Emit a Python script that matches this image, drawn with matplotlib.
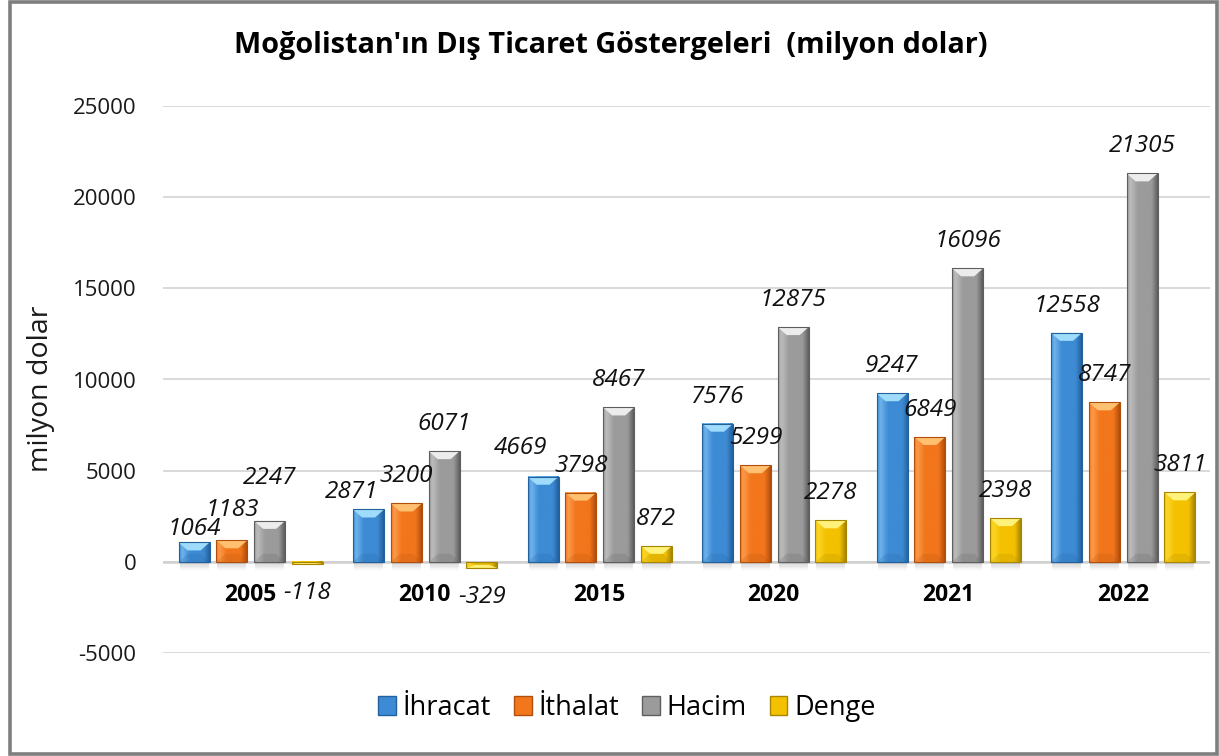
import numpy as np
import matplotlib
matplotlib.use("Agg")
import matplotlib.pyplot as plt
from matplotlib.patches import Rectangle, Polygon, Patch
from matplotlib.colors import LinearSegmentedColormap
from matplotlib import font_manager

# data
years = ["2005", "2010", "2015", "2020", "2021", "2022"]
ihracat = [1064, 2871, 4669, 7576, 9247, 12558]
ithalat = [1183, 3200, 3798, 5299, 6849, 8747]
hacim = [2247, 6071, 8467, 12875, 16096, 21305]
denge = [-118, -329, 872, 2278, 2398, 3811]
series_names = ["İhracat", "İthalat", "Hacim", "Denge"]
title = "Moğolistan'ın Dış Ticaret Göstergeleri  (milyon dolar)"
y_label = "milyon dolar"


def pick_family(families, style):
    for fam in families:
        for f in font_manager.fontManager.ttflist:
            if f.name == fam and f.style == style:
                return fam
    return "DejaVu Sans"


main_font = pick_family(["Open Sans", "Lato", "Noto Sans"], "normal")
italic_font = pick_family(["Open Sans", "Lato", "Noto Sans", "Liberation Sans"], "italic")
plt.rcParams["font.family"] = [main_font, "DejaVu Sans"]
plt.rcParams["axes.unicode_minus"] = False

# (dark, base, light, top facet) for each series
palettes = [
    ("#23609c", "#3d8bd4", "#6fb4ec", "#9fdcfb"),
    ("#b04e0c", "#f2761c", "#fb9a4a", "#ffc070"),
    ("#5e5e5e", "#9b9b9b", "#bdbdbd", "#ececec"),
    ("#a88500", "#f4c100", "#fcd629", "#fff27a"),
]

W, H = 1219, 756
fig = plt.figure(figsize=(W / 100, H / 100), dpi=100)
ax = fig.add_axes([163 / W, 1 - 653 / H, (1210 - 163) / W, (653 - 106) / H])
ax.set_xlim(-0.5, len(years) - 0.5)
ax.set_ylim(-5000, 25000)

# data units per pixel
ux = len(years) / (1210 - 163)
uy = 30000 / (653 - 106)

step = 37.8 * ux
bar_w = 31 * ux
bev_h, bev_i = 8, 9


def draw_bar(xc, v, pal):
    dark, base, light, top = pal
    x0, x1 = xc - bar_w / 2, xc + bar_w / 2
    y0, y1 = min(0, v), max(0, v)
    cmap = LinearSegmentedColormap.from_list(
        "g", [(0, base), (0.1, light), (0.35, base), (0.8, base), (1, dark)])
    grad = np.linspace(0, 1, 64).reshape(1, -1)
    ax.imshow(grad, extent=(x0, x1, y0, y1), aspect="auto", cmap=cmap,
              interpolation="bicubic", zorder=3)
    h = min(bev_h * uy, (y1 - y0) / 2)
    i = bev_i * ux
    # outer end facet (top for positive, bottom for negative)
    e, s = (y1, -1) if v >= 0 else (y0, 1)
    b = y0 if v >= 0 else y1
    ax.add_patch(Polygon([(x0, e), (x1, e), (x1 - i, e + s * h), (x0 + i, e + s * h)],
                         closed=True, facecolor=top, edgecolor="none", zorder=4))
    ax.add_patch(Polygon([(x0, b), (x1, b), (x1 - i, b - s * h), (x0 + i, b - s * h)],
                         closed=True, facecolor=dark, alpha=0.2, edgecolor="none", zorder=4))
    ax.add_patch(Rectangle((x0, y0), bar_w, y1 - y0, fill=False, edgecolor=dark,
                           lw=0.8, zorder=5))
    # soft shadow under the base
    if v > 0:
        for k in range(1, 6):
            ax.add_patch(Rectangle((x0 + 1 * ux, -k * 1.6 * uy), bar_w - 2 * ux, k * 1.6 * uy,
                                   facecolor="#606060", alpha=0.05, edgecolor="none", zorder=2))


# label nudges in pixels (dx, distance from bar end), default (0, 27)
nudges = {(0, 0): (0, 13), (1, 0): (0, 30), (2, 0): (0, 43),
          (0, 1): (-17, 17), (0, 2): (-22, 29)}

all_series = [ihracat, ithalat, hacim, denge]
x = np.arange(len(years))
for si, vals in enumerate(all_series):
    for ci, v in enumerate(vals):
        xc = x[ci] + (si - 1.5) * step + 0.5 * ux
        draw_bar(xc, v, palettes[si])
        dx, dy = nudges.get((si, ci), (0, 27 if v >= 0 else 29))
        sign = 1 if v >= 0 else -1
        ax.annotate(str(v), (xc, v), xytext=(dx * 0.72, sign * dy * 0.72),
                    textcoords="offset points", ha="center", va="center",
                    fontsize=17.5, style="italic",
                    family=[italic_font, "DejaVu Sans"], color="#111111", zorder=6)

for ci, yr in enumerate(years):
    ax.annotate(yr, (x[ci], 0), xytext=(0, -33 * 0.72), textcoords="offset points",
                ha="center", va="center", fontsize=16.5, fontweight="bold", color="#000000")

ax.set_yticks(np.arange(-5000, 25001, 5000))
ax.set_xticks([])
ax.tick_params(axis="y", length=0, pad=19, labelsize=16, labelcolor="#1a1a1a")
ax.yaxis.grid(True, color="#d9d9d9", lw=1.4)
ax.set_axisbelow(True)
ax.axhline(0, color="#d0d0d0", lw=1.8, zorder=1)
for sp in ax.spines.values():
    sp.set_visible(False)

fig.text(611 / W, 1 - 45 / H, title, ha="center", va="center",
         fontsize=20.8, fontweight="bold", color="#000000")
fig.text(41 / W, 1 - 389 / H, y_label, rotation=90, ha="center", va="center",
         fontsize=20.5, color="#1a1a1a")

handles = [Patch(facecolor=p[1], edgecolor=p[0]) for p in palettes]
fig.legend(handles, series_names, loc="center", bbox_to_anchor=(627 / W, 1 - 708 / H),
           ncol=4, frameon=False, fontsize=19.5, handlelength=0.65, handleheight=0.65,
           handletextpad=0.25, columnspacing=0.85)

fig.add_artist(Rectangle((9.5 / W, 2 / H), (1217 - 9.5) / W, (754 - 2) / H,
                         transform=fig.transFigure, fill=False, edgecolor="#7f7f7f", lw=2.6))

fig.savefig("out.png", dpi=100)
